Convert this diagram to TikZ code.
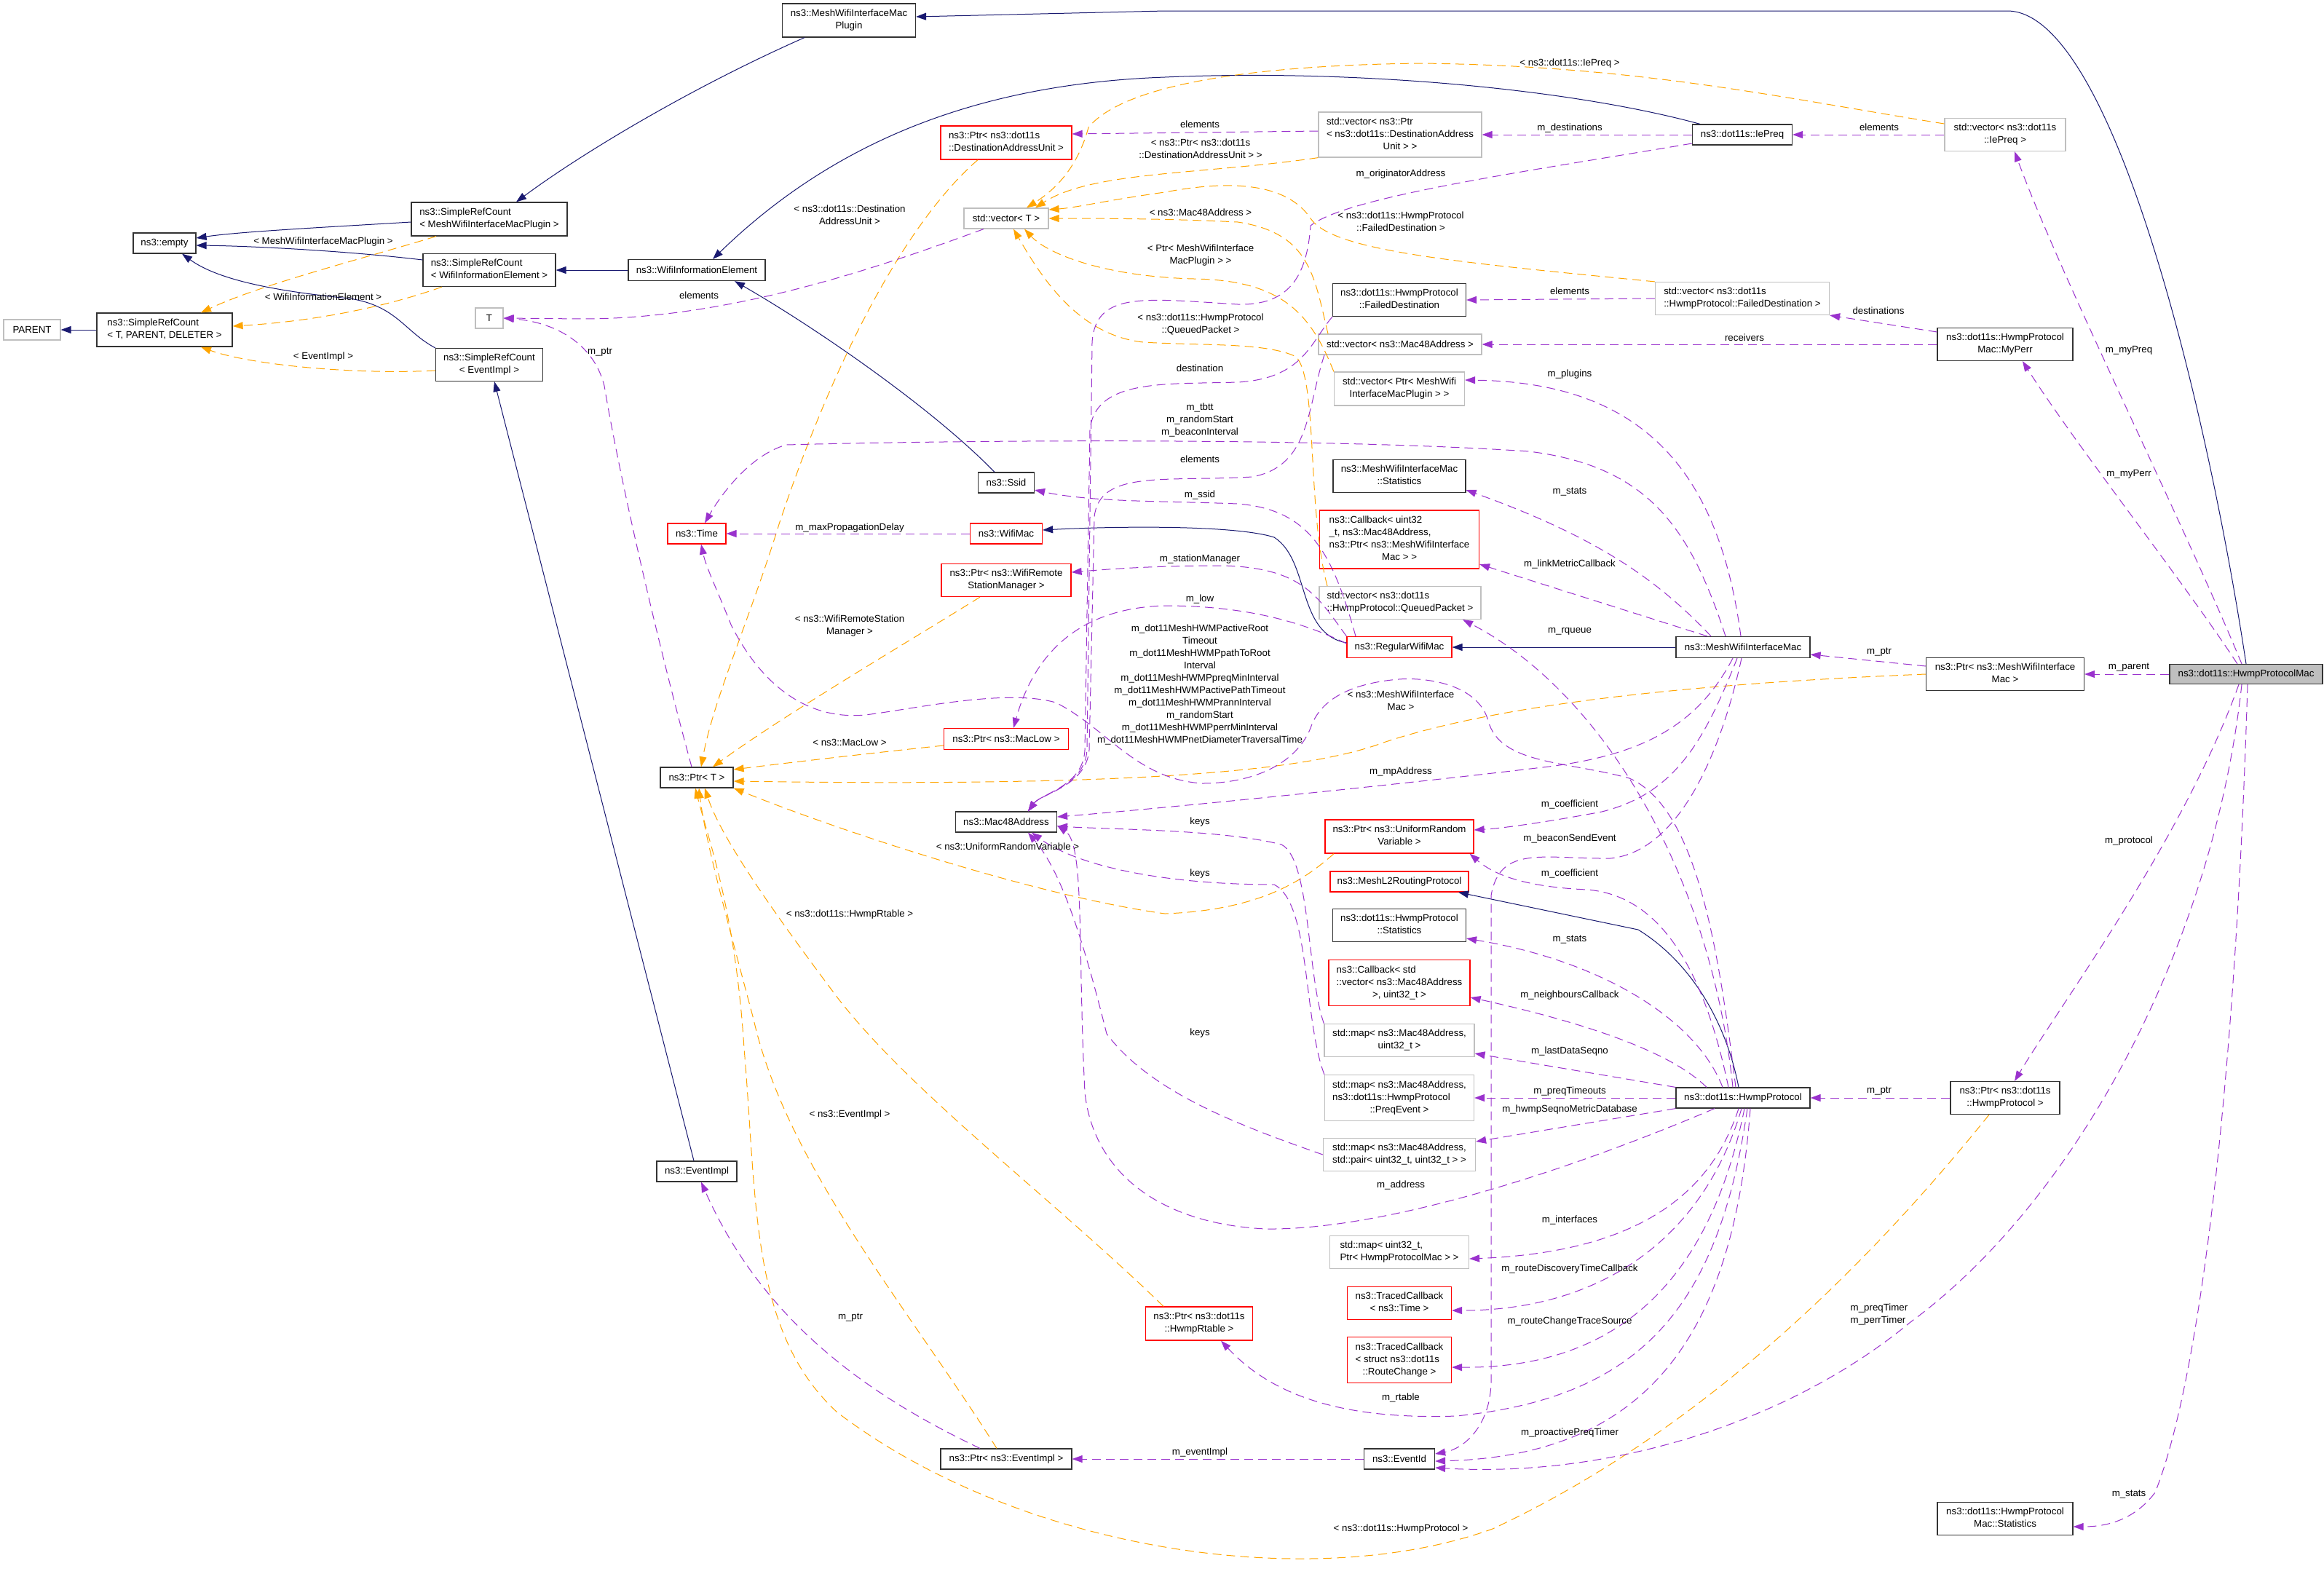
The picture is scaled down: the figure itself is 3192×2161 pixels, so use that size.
\documentclass[tikz,border=0pt]{standalone}
\usepackage{fontspec}
\setmainfont{Liberation Sans}
\usetikzlibrary{arrows.meta}
\definecolor{navy}{RGB}{25,25,112}
\definecolor{orng}{RGB}{255,165,0}
\definecolor{purp}{RGB}{154,50,205}
\definecolor{gbord}{RGB}{191,191,191}
\definecolor{hpmfill}{RGB}{191,191,191}
\newcommand\dtwo[2]{\begin{tabular}{@{}l@{}}#1\\\multicolumn{1}{@{}c@{}}{#2}\end{tabular}}
\newcommand\dthree[3]{\begin{tabular}{@{}l@{}}#1\\#2\\\multicolumn{1}{@{}c@{}}{#3}\end{tabular}}
\newcommand\dfour[4]{\begin{tabular}{@{}l@{}}#1\\#2\\#3\\\multicolumn{1}{@{}c@{}}{#4}\end{tabular}}
\begin{document}
\begin{tikzpicture}[x=1pt,y=-1pt,
  every node/.style={font=\fontsize{13.3pt}{17pt}\selectfont},
  nbox/.style={draw=black!80,line width=1.2pt,fill=white,inner sep=0pt},
  gbox/.style={draw=gbord,line width=1.2pt,fill=white,inner sep=0pt},
  rbox/.style={draw=red,line width=1.2pt,fill=white,inner sep=0pt},
  sz/.style 2 args={minimum width=#1pt,minimum height=#2pt},
  lbl/.style={inner sep=0pt,align=center},
  nav/.style={draw=navy,line width=1pt,-{Triangle[length=14pt,width=10pt]}},
  org/.style={draw=orng,line width=1pt,dash pattern=on 12pt off 7pt,-{Triangle[length=14pt,width=10pt]}},
  pur/.style={draw=purp,line width=1pt,dash pattern=on 12pt off 7pt,-{Triangle[length=14pt,width=10pt]}}]
\useasboundingbox[fill=white] (0,0) rectangle (3192,2161);

% ---------------- nodes ----------------
\node[gbox,sz={78}{28}] (PARENT) at (44,453) {PARENT};
\node[nbox,sz={186}{46}] (SRC_TPD) at (226,453) {\dtwo{ns3::SimpleRefCount}{< T, PARENT, DELETER >}};
\node[nbox,sz={86}{28}] (empty) at (226,334) {ns3::empty};
\node[nbox,sz={214}{46}] (SRC_MWIMP) at (672,301) {\dtwo{ns3::SimpleRefCount}{< MeshWifiInterfaceMacPlugin >}};
\node[nbox,sz={182}{45}] (SRC_WIE) at (672,371) {\dtwo{ns3::SimpleRefCount}{< WifiInformationElement >}};
\node[gbox,sz={38}{28}] (T) at (672,437) {T};
\node[nbox,sz={147}{45}] (SRC_EI) at (672,501) {\dtwo{ns3::SimpleRefCount}{< EventImpl >}};
\node[nbox,sz={188}{29}] (WIE) at (957,371) {ns3::WifiInformationElement};
\node[rbox,sz={80}{28}] (Time) at (957,733) {ns3::Time};
\node[nbox,sz={100}{28}] (PtrT) at (957,1068) {ns3::Ptr< T >};
\node[nbox,sz={110}{28}] (EventImpl) at (957,1609) {ns3::EventImpl};
\node[nbox,sz={183}{46}] (Plugin) at (1166,28) {\dtwo{ns3::MeshWifiInterfaceMac}{Plugin}};
\node[rbox,sz={180}{46}] (PtrDAU) at (1382,196) {\dtwo{ns3::Ptr< ns3::dot11s}{::DestinationAddressUnit >}};
\node[gbox,sz={116}{28}] (vecT) at (1382,300) {std::vector< T >};
\node[nbox,sz={77}{28}] (Ssid) at (1382,663) {ns3::Ssid};
\node[rbox,sz={99}{28}] (WifiMac) at (1382,733) {ns3::WifiMac};
\node[rbox,sz={178}{45}] (PtrWRSM) at (1382,797) {\dtwo{ns3::Ptr< ns3::WifiRemote}{StationManager >}};
\node[rbox,sz={171}{29}] (PtrMacLow) at (1382,1015) {ns3::Ptr< ns3::MacLow >};
\node[nbox,sz={139}{28}] (Mac48) at (1382,1129) {ns3::Mac48Address};
\node[nbox,sz={180}{28}] (PtrEI) at (1382,2004) {ns3::Ptr< ns3::EventImpl >};
\node[rbox,sz={147}{46}] (PtrHwmpRtable) at (1647,1818) {\dtwo{ns3::Ptr< ns3::dot11s}{::HwmpRtable >}};
\node[gbox,sz={224}{62}] (vecPtrDAU) at (1923,185) {\dthree{std::vector< ns3::Ptr}{< ns3::dot11s::DestinationAddress}{Unit > >}};
\node[nbox,sz={183}{45}] (FD) at (1922,412) {\dtwo{ns3::dot11s::HwmpProtocol}{::FailedDestination}};
\node[gbox,sz={224}{28}] (vecMac48) at (1923,473) {std::vector< ns3::Mac48Address >};
\node[gbox,sz={179}{46}] (vecPtrMWIMP) at (1922,534) {\dtwo{std::vector< Ptr< MeshWifi}{InterfaceMacPlugin > >}};
\node[nbox,sz={182}{45}] (MWIMStats) at (1922,654) {\dtwo{ns3::MeshWifiInterfaceMac}{::Statistics}};
\node[rbox,sz={219}{80}] (CallbackLM) at (1922,741) {\dfour{ns3::Callback< uint32}{\_t, ns3::Mac48Address,}{ns3::Ptr< ns3::MeshWifiInterface}{Mac > >}};
\node[gbox,sz={222}{45}] (vecQP) at (1923,828) {\dtwo{std::vector< ns3::dot11s}{::HwmpProtocol::QueuedPacket >}};
\node[rbox,sz={144}{29}] (RegularWifiMac) at (1922,889) {ns3::RegularWifiMac};
\node[rbox,sz={204}{46}] (PtrURV) at (1922,1149) {\dtwo{ns3::Ptr< ns3::UniformRandom}{Variable >}};
\node[rbox,sz={190}{28}] (MeshL2) at (1922,1211) {ns3::MeshL2RoutingProtocol};
\node[nbox,sz={183}{45}] (HPStats) at (1922,1271) {\dtwo{ns3::dot11s::HwmpProtocol}{::Statistics}};
\node[rbox,sz={194}{63}] (CallbackN) at (1922,1350) {\dthree{ns3::Callback< std}{::vector< ns3::Mac48Address}{>, uint32\_t >}};
\node[gbox,sz={206}{45}] (mapSeq) at (1922,1429) {\dtwo{std::map< ns3::Mac48Address,}{uint32\_t >}};
\node[gbox,sz={205}{63}] (mapPreq) at (1922,1508) {\dthree{std::map< ns3::Mac48Address,}{ns3::dot11s::HwmpProtocol}{::PreqEvent >}};
\node[gbox,sz={209}{45}] (mapPair) at (1922,1586) {\dtwo{std::map< ns3::Mac48Address,}{std::pair< uint32\_t, uint32\_t > >}};
\node[gbox,sz={191}{45}] (mapIf) at (1922,1720) {\dtwo{std::map< uint32\_t,}{Ptr< HwmpProtocolMac > >}};
\node[rbox,sz={143}{45}] (TCTime) at (1922,1790) {\dtwo{ns3::TracedCallback}{< ns3::Time >}};
\node[rbox,sz={143}{63}] (TCRC) at (1922,1868) {\dthree{ns3::TracedCallback}{< struct ns3::dot11s}{::RouteChange >}};
\node[nbox,sz={97}{28}] (EventId) at (1922,2004) {ns3::EventId};
\node[nbox,sz={137}{28}] (IePreq) at (2393,185) {ns3::dot11s::IePreq};
\node[gbox,sz={239}{45}] (vecFD) at (2393,410) {\dtwo{std::vector< ns3::dot11s}{::HwmpProtocol::FailedDestination >}};
\node[nbox,sz={184}{29}] (MWIM) at (2394,889) {ns3::MeshWifiInterfaceMac};
\node[nbox,sz={184}{28}] (HwmpProtocol) at (2394,1508) {ns3::dot11s::HwmpProtocol};
\node[gbox,sz={166}{45}] (vecIePreq) at (2754,185) {\dtwo{std::vector< ns3::dot11s}{::IePreq >}};
\node[nbox,sz={186}{45}] (MyPerr) at (2754,473) {\dtwo{ns3::dot11s::HwmpProtocol}{Mac::MyPerr}};
\node[nbox,sz={217}{45}] (PtrMWIM) at (2754,926) {\dtwo{ns3::Ptr< ns3::MeshWifiInterface}{Mac >}};
\node[nbox,sz={150}{45}] (PtrHP) at (2754,1508) {\dtwo{ns3::Ptr< ns3::dot11s}{::HwmpProtocol >}};
\node[nbox,sz={186}{45}] (HPMStats) at (2754,2086) {\dtwo{ns3::dot11s::HwmpProtocol}{Mac::Statistics}};
\node[nbox,fill=hpmfill,sz={210}{27}] (HPM) at (3085,926) {ns3::dot11s::HwmpProtocolMac};

% ---------------- inheritance ----------------
\draw[nav] (HPM.north) .. controls (3030,550) and (2900,15) .. (2757,15) -- (1600,15) -- ([yshift=5pt]Plugin.east);
\draw[nav] ([xshift=-61pt]Plugin.south) .. controls (950,120) and (800,210) .. ([xshift=37pt]SRC_MWIMP.north);
\draw[nav] ([yshift=-4pt]SRC_MWIMP.west) .. controls (450,312) and (330,318) .. ([yshift=7pt]empty.east);
\draw[nav] ([yshift=14pt]SRC_WIE.west) .. controls (480,345) and (350,338) .. ([yshift=-3pt]empty.east);
\draw[nav] (SRC_EI.north west) .. controls (555,455) and (545,420) .. (480,410) .. controls (380,400) and (300,385) .. ([xshift=24pt]empty.south);
\draw[nav] (SRC_TPD.west) -- (PARENT.east);
\draw[nav] ([xshift=-58pt]IePreq.north) .. controls (2150,120) and (1850,95) .. (1600,106) .. controls (1350,115) and (1150,190) .. ([xshift=22pt]WIE.north);
\draw[nav] ([xshift=-16pt]Ssid.north) .. controls (1280,560) and (1120,450) .. ([xshift=52pt]WIE.south);
\draw[nav] (WIE.west) -- (SRC_WIE.east);
\draw[nav] ([xshift=-4pt]EventImpl.north) -- ([xshift=7pt]SRC_EI.south);
\draw[nav] (MWIM.west) -- (RegularWifiMac.east);
\draw[nav] ([yshift=6pt]RegularWifiMac.west) .. controls (1780,870) and (1800,770) .. (1750,738) .. controls (1700,722) and (1550,722) .. ([yshift=5pt]WifiMac.east);
\draw[nav] ([xshift=-6pt]HwmpProtocol.north) .. controls (2370,1400) and (2320,1320) .. (2250,1277) -- ([xshift=81pt]MeshL2.south);

% ---------------- template instances ----------------
\draw[org] ([xshift=-73pt]SRC_MWIMP.south) .. controls (500,355) and (360,390) .. ([xshift=50pt]SRC_TPD.north);
\draw[org] ([xshift=-65pt]SRC_WIE.south) .. controls (520,425) and (420,442) .. ([yshift=5pt]SRC_TPD.east);
\draw[org] ([yshift=-8pt]SRC_EI.west) .. controls (480,515) and (340,500) .. ([xshift=50pt]SRC_TPD.south);
\draw[org] ([yshift=15pt]vecIePreq.west) .. controls (2450,135) and (2250,90) .. (1950,87) .. controls (1700,90) and (1540,120) .. (1495,175) .. controls (1480,230) and (1450,260) .. ([xshift=28pt]vecT.north);
\draw[org] (vecPtrDAU.south west) .. controls (1650,240) and (1500,235) .. ([xshift=40pt]vecT.north);
\draw[org] (vecFD.north west) .. controls (2000,360) and (1830,345) .. (1800,300) .. controls (1770,255) and (1700,245) .. (1600,264) .. controls (1520,275) and (1480,285) .. ([yshift=12pt]vecT.east);
\draw[org] ([xshift=-99pt]vecMac48.north) .. controls (1805,380) and (1800,320) .. (1700,305) .. controls (1600,300) and (1500,300) .. (vecT.east);
\draw[org] (vecPtrMWIMP.north west) .. controls (1800,430) and (1760,385) .. (1640,383) .. controls (1520,380) and (1440,350) .. ([xshift=25pt]vecT.south);
\draw[org] ([xshift=-100pt]vecQP.north) .. controls (1795,700) and (1810,520) .. (1780,490) .. controls (1740,470) and (1650,475) .. (1570,470) .. controls (1480,460) and (1430,380) .. ([xshift=10pt]vecT.south);
\draw[org] ([xshift=-39pt]PtrDAU.south) .. controls (1250,300) and (1150,480) .. (1070,720) .. controls (1030,850) and (980,960) .. ([xshift=6pt]PtrT.north);
\draw[org] ([xshift=-36pt]PtrWRSM.south) .. controls (1250,880) and (1080,980) .. ([xshift=22pt]PtrT.north);
\draw[org] ([yshift=-9pt]PtrMacLow.west) .. controls (1200,1034) and (1080,1048) .. ([yshift=11pt]PtrT.east);
\draw[org] (PtrMWIM.west) .. controls (2300,940) and (2050,970) .. (1900,1020) .. controls (1780,1065) and (1500,1080) .. ([yshift=-5pt]PtrT.east);
\draw[org] ([xshift=-90pt]PtrURV.south) .. controls (1790,1210) and (1730,1250) .. (1600,1255) .. controls (1420,1230) and (1150,1140) .. (PtrT.south east);
\draw[org] ([xshift=-49pt]PtrHwmpRtable.north) .. controls (1450,1650) and (1250,1500) .. (1150,1370) .. controls (1060,1250) and (990,1150) .. ([xshift=11pt]PtrT.south);
\draw[org] ([xshift=-13pt]PtrEI.north) .. controls (1250,1800) and (1080,1600) .. (1035,1400) .. controls (995,1250) and (968,1150) .. ([xshift=3pt]PtrT.south);
\draw[org] ([xshift=-22pt]PtrHP.south) .. controls (2580,1720) and (2350,1960) .. (2050,2100) .. controls (1800,2190) and (1400,2130) .. (1150,1940) .. controls (1030,1830) and (1040,1650) .. (1022,1440) .. controls (1010,1250) and (972,1150) .. ([xshift=-2pt]PtrT.south);

% ---------------- usage ----------------
\draw[pur] ([xshift=-31pt]vecT.south) .. controls (1200,370) and (1000,438) .. (800,438) -- (T.east);
\draw[pur] ([xshift=-7pt]PtrT.north) .. controls (900,870) and (850,650) .. (830,530) .. controls (815,470) and (760,442) .. (T.east);
\draw[pur] ([yshift=5pt]vecPtrDAU.west) -- ([yshift=12pt]PtrDAU.east);
\draw[pur] (IePreq.west) -- (vecPtrDAU.east);
\draw[pur] ([yshift=-12pt]IePreq.west) .. controls (2100,235) and (1850,270) .. (1800,310) .. controls (1795,380) and (1770,420) .. (1700,418) .. controls (1570,410) and (1505,400) .. (1500,470) -- (1493,1030) .. controls (1490,1080) and (1430,1090) .. ([xshift=30pt]Mac48.north);
\draw[pur] (vecIePreq.west) -- (IePreq.east);
\draw[pur] ([xshift=-6pt]HPM.north) .. controls (3000,720) and (2830,380) .. ([xshift=13pt]vecIePreq.south);
\draw[pur] ([xshift=-12pt]HPM.north) .. controls (3000,800) and (2850,610) .. ([xshift=24pt]MyPerr.south);
\draw[pur] (vecFD.west) -- (FD.east);
\draw[pur] ([yshift=17pt]MyPerr.west) -- (vecFD.south east);
\draw[pur] (MyPerr.west) -- (vecMac48.east);
\draw[pur] (FD.south west) .. controls (1800,470) and (1790,520) .. (1700,525) .. controls (1600,528) and (1505,520) .. (1497,590) -- (1490,1030) .. controls (1488,1080) and (1430,1090) .. ([xshift=30pt]Mac48.north);
\draw[pur] ([xshift=-104pt]vecMac48.south) .. controls (1795,560) and (1800,640) .. (1720,655) .. controls (1600,662) and (1510,645) .. (1503,710) -- (1496,1030) .. controls (1492,1080) and (1430,1090) .. ([xshift=30pt]Mac48.north);
\draw[pur] ([xshift=-3pt]MWIM.north) .. controls (2360,640) and (2250,525) .. ([yshift=12pt]vecPtrMWIMP.east);
\draw[pur] ([xshift=-24pt]MWIM.north) .. controls (2320,720) and (2260,640) .. (2100,620) .. controls (1800,600) and (1300,605) .. (1080,611) .. controls (1030,625) and (990,680) .. ([xshift=11pt]Time.north);
\draw[pur] ([xshift=-44pt]MWIM.north) .. controls (2280,800) and (2200,740) .. ([yshift=-19pt]MWIMStats.east);
\draw[pur] ([xshift=-49pt]MWIM.north) -- ([yshift=-34pt]CallbackLM.east);
\draw[pur] ([xshift=-60pt]RegularWifiMac.north) .. controls (1830,760) and (1800,700) .. (1700,692) .. controls (1600,688) and (1500,690) .. ([yshift=-10pt]Ssid.east);
\draw[pur] (WifiMac.west) -- (Time.east);
\draw[pur] (RegularWifiMac.north west) .. controls (1810,820) and (1790,780) .. (1680,777) .. controls (1580,777) and (1520,782) .. ([yshift=11pt]PtrWRSM.east);
\draw[pur] ([yshift=5pt]RegularWifiMac.west) .. controls (1780,850) and (1700,832) .. (1600,832) .. controls (1480,835) and (1420,900) .. ([xshift=10pt]PtrMacLow.north);
\draw[pur] ([xshift=-10pt]HwmpProtocol.north) .. controls (2360,1300) and (2330,1110) .. (2238,1069) .. controls (2150,1045) and (2060,1050) .. (2044,990) .. controls (2030,940) and (1960,930) .. (1921,933) .. controls (1840,940) and (1810,970) .. (1800,1000) .. controls (1780,1050) and (1720,1076) .. (1651,1076) .. controls (1560,1070) and (1520,1000) .. (1450,965) .. controls (1380,945) and (1250,975) .. (1188,982) .. controls (1100,990) and (1040,930) .. (1004,858) .. controls (985,810) and (970,780) .. ([xshift=6pt]Time.south);
\draw[pur] ([xshift=-14pt]HwmpProtocol.north) .. controls (2350,1200) and (2200,950) .. ([xshift=86pt]vecQP.south);
\draw[pur] ([yshift=11pt]PtrMWIM.west) -- ([yshift=-10pt]MWIM.east);
\draw[pur] (HPM.west) -- (PtrMWIM.east);
\draw[pur] ([xshift=-14pt]MWIM.south) .. controls (2330,1000) and (2250,1040) .. (2110,1055) .. controls (1900,1080) and (1600,1110) .. ([yshift=7pt]Mac48.east);
\draw[pur] ([xshift=-8pt]MWIM.south) .. controls (2340,1020) and (2300,1090) .. (2200,1115) .. controls (2120,1130) and (2060,1138) .. ([yshift=9pt]PtrURV.east);
\draw[pur] ([xshift=-2pt]MWIM.south) .. controls (2360,1050) and (2300,1170) .. (2212,1179) .. controls (2120,1180) and (2060,1160) .. (2048,1230) -- (2048,1900) .. controls (2046,1960) and (2010,1990) .. ([yshift=7pt]EventId.east);
\draw[pur] ([xshift=-20pt]HwmpProtocol.north) .. controls (2340,1330) and (2280,1230) .. (2180,1222) .. controls (2090,1218) and (2050,1200) .. ([xshift=-6pt]PtrURV.south east);
\draw[pur] ([xshift=-28pt]HwmpProtocol.north) .. controls (2330,1400) and (2200,1320) .. ([yshift=-18pt]HPStats.east);
\draw[pur] ([xshift=-50pt]HwmpProtocol.north) .. controls (2300,1450) and (2200,1410) .. ([yshift=-20pt]CallbackN.east);
\draw[pur] (HwmpProtocol.north west) -- ([yshift=-18pt]mapSeq.east);
\draw[pur] (HwmpProtocol.west) -- (mapPreq.east);
\draw[pur] (HwmpProtocol.south west) -- ([yshift=18pt]mapPair.east);
\draw[pur] (mapSeq.north west) .. controls (1795,1340) and (1800,1180) .. (1760,1160) .. controls (1680,1140) and (1550,1140) .. ([yshift=-6pt]Mac48.east);
\draw[pur] (mapPreq.north west) .. controls (1790,1400) and (1800,1240) .. (1750,1215) .. controls (1600,1215) and (1480,1190) .. ([xshift=35pt]Mac48.south);
\draw[pur] (mapPair.west) .. controls (1700,1545) and (1580,1500) .. (1520,1420) .. controls (1490,1300) and (1460,1200) .. ([xshift=30pt]Mac48.south);
\draw[pur] ([xshift=-39pt]HwmpProtocol.south) .. controls (2150,1610) and (1900,1690) .. (1738,1688) .. controls (1580,1680) and (1500,1600) .. (1490,1500) .. controls (1480,1300) and (1490,1160) .. ([yshift=-5pt]Mac48.east);
\draw[pur] ([xshift=-6pt]HwmpProtocol.south) .. controls (2350,1640) and (2250,1720) .. ([yshift=-9pt]mapIf.east);
\draw[pur] ([xshift=-2pt]HwmpProtocol.south) .. controls (2340,1700) and (2200,1800) .. ([yshift=-10pt]TCTime.east);
\draw[pur] ([xshift=2pt]HwmpProtocol.south) .. controls (2350,1750) and (2230,1880) .. ([yshift=-10pt]TCRC.east);
\draw[pur] ([xshift=6pt]HwmpProtocol.south) .. controls (2360,1800) and (2250,1920) .. (2000,1945) .. controls (1850,1950) and (1750,1920) .. ([xshift=30pt]PtrHwmpRtable.south);
\draw[pur] ([xshift=10pt]HwmpProtocol.south) .. controls (2380,1850) and (2250,2000) .. ([yshift=-3pt]EventId.east);
\draw[pur] ([xshift=-6pt]HPM.south) .. controls (3040,1300) and (2850,1650) .. (2624,1816) .. controls (2450,1960) and (2200,2030) .. ([yshift=-12pt]EventId.east);
\draw[pur] (EventId.west) -- (PtrEI.east);
\draw[pur] ([xshift=-36pt]PtrEI.north) .. controls (1200,1920) and (1050,1820) .. ([xshift=6pt]EventImpl.south);
\draw[pur] (PtrHP.west) -- (HwmpProtocol.east);
\draw[pur] ([xshift=-10pt]HPM.south) .. controls (3000,1150) and (2830,1380) .. ([xshift=13pt]PtrHP.north);
\draw[pur] ([xshift=2pt]HPM.south) .. controls (3070,1500) and (3020,1900) .. (2960,2050) .. controls (2930,2090) and (2890,2097) .. ([yshift=-11pt]HPMStats.east);

% ---------------- labels ----------------
\node[lbl] (la1) at (444,332) {< MeshWifiInterfaceMacPlugin >};
\node[lbl] (la2) at (444,408) {< WifiInformationElement >};
\node[lbl] (la3) at (444,490) {< EventImpl >};
\node[lbl] (la4) at (1167,295) {< ns3::dot11s::Destination\\AddressUnit >};
\node[lbl] (la5) at (2156,87) {< ns3::dot11s::IePreq >};
\node[lbl] (la6) at (1649,204) {< ns3::Ptr< ns3::dot11s\\::DestinationAddressUnit > >};
\node[lbl] (la7) at (1924,304) {< ns3::dot11s::HwmpProtocol\\::FailedDestination >};
\node[lbl] (la8) at (1649,292) {< ns3::Mac48Address >};
\node[lbl] (la9) at (1649,351) {< Ptr< MeshWifiInterface\\MacPlugin > >};
\node[lbl] (la10) at (1649,445) {< ns3::dot11s::HwmpProtocol\\::QueuedPacket >};
\node[lbl] (la11) at (1167,860) {< ns3::WifiRemoteStation\\Manager >};
\node[lbl] (la12) at (1167,1020) {< ns3::MacLow >};
\node[lbl] (la13) at (1384,1163) {< ns3::UniformRandomVariable >};
\node[lbl] (la14) at (1167,1256) {< ns3::dot11s::HwmpRtable >};
\node[lbl] (la15) at (1167,1531) {< ns3::EventImpl >};
\node[lbl] (la16) at (1924,962) {< ns3::MeshWifiInterface\\Mac >};
\node[lbl] (la17) at (1924,2100) {< ns3::dot11s::HwmpProtocol >};

\node[lbl] (lb1) at (960,406) {elements};
\node[lbl] (lb2) at (824,484) {m\_ptr};
\node[lbl] (lb3) at (1648,171) {elements};
\node[lbl] (lb4) at (2156,176) {m\_destinations};
\node[lbl] (lb5) at (1924,239) {m\_originatorAddress};
\node[lbl] (lb6) at (2581,175) {elements};
\node[lbl] (lb7) at (2924,481) {m\_myPreq};
\node[lbl] (lb8) at (2924,651) {m\_myPerr};
\node[lbl] (lb9) at (2156,400) {elements};
\node[lbl] (lb10) at (2580,427) {destinations};
\node[lbl] (lb11) at (2396,464) {receivers};
\node[lbl] (lb12) at (1648,506) {destination};
\node[lbl] (lb13) at (1648,631) {elements};
\node[lbl] (lb14) at (2156,514) {m\_plugins};
\node[lbl] (lb15) at (1648,577) {m\_tbtt\\m\_randomStart\\m\_beaconInterval};
\node[lbl] (lb16) at (2156,676) {m\_stats};
\node[lbl] (lb17) at (2156,775) {m\_linkMetricCallback};
\node[lbl] (lb18) at (1648,680) {m\_ssid};
\node[lbl] (lb19) at (1167,725) {m\_maxPropagationDelay};
\node[lbl] (lb20) at (1648,768) {m\_stationManager};
\node[lbl] (lb21) at (1648,823) {m\_low};
\node[lbl] (lb22) at (1648,940) {m\_dot11MeshHWMPactiveRoot\\Timeout\\m\_dot11MeshHWMPpathToRoot\\Interval\\m\_dot11MeshHWMPpreqMinInterval\\m\_dot11MeshHWMPactivePathTimeout\\m\_dot11MeshHWMPrannInterval\\m\_randomStart\\m\_dot11MeshHWMPperrMinInterval\\m\_dot11MeshHWMPnetDiameterTraversalTime};
\node[lbl] (lb23) at (2156,867) {m\_rqueue};
\node[lbl] (lb24) at (2581,896) {m\_ptr};
\node[lbl] (lb25) at (2924,917) {m\_parent};
\node[lbl] (lb26) at (1924,1060) {m\_mpAddress};
\node[lbl] (lb27) at (2156,1105) {m\_coefficient};
\node[lbl] (lb28) at (2156,1152) {m\_beaconSendEvent};
\node[lbl] (lb29) at (2156,1200) {m\_coefficient};
\node[lbl] (lb30) at (2156,1291) {m\_stats};
\node[lbl] (lb31) at (2156,1367) {m\_neighboursCallback};
\node[lbl] (lb32) at (2156,1444) {m\_lastDataSeqno};
\node[lbl] (lb33) at (2156,1499) {m\_preqTimeouts};
\node[lbl] (lb34) at (2156,1524) {m\_hwmpSeqnoMetricDatabase};
\node[lbl] (lb35) at (1648,1129) {keys};
\node[lbl] (lb36) at (1648,1200) {keys};
\node[lbl] (lb37) at (1648,1419) {keys};
\node[lbl] (lb38) at (1924,1628) {m\_address};
\node[lbl] (lb39) at (2156,1676) {m\_interfaces};
\node[lbl] (lb40) at (2156,1743) {m\_routeDiscoveryTimeCallback};
\node[lbl] (lb41) at (2156,1815) {m\_routeChangeTraceSource};
\node[lbl] (lb42) at (1924,1920) {m\_rtable};
\node[lbl] (lb43) at (2156,1968) {m\_proactivePreqTimer};
\node[lbl] (lb44) at (1648,1995) {m\_eventImpl};
\node[lbl] (lb45) at (1168,1810) {m\_ptr};
\node[lbl] (lb46) at (2581,1499) {m\_ptr};
\node[lbl] (lb47) at (2924,1155) {m\_protocol};
\node[lbl,align=left] (lb48) at (2581,1806) {m\_preqTimer\\m\_perrTimer};
\node[lbl] (lb49) at (2924,2052) {m\_stats};
\end{tikzpicture}
\end{document}
